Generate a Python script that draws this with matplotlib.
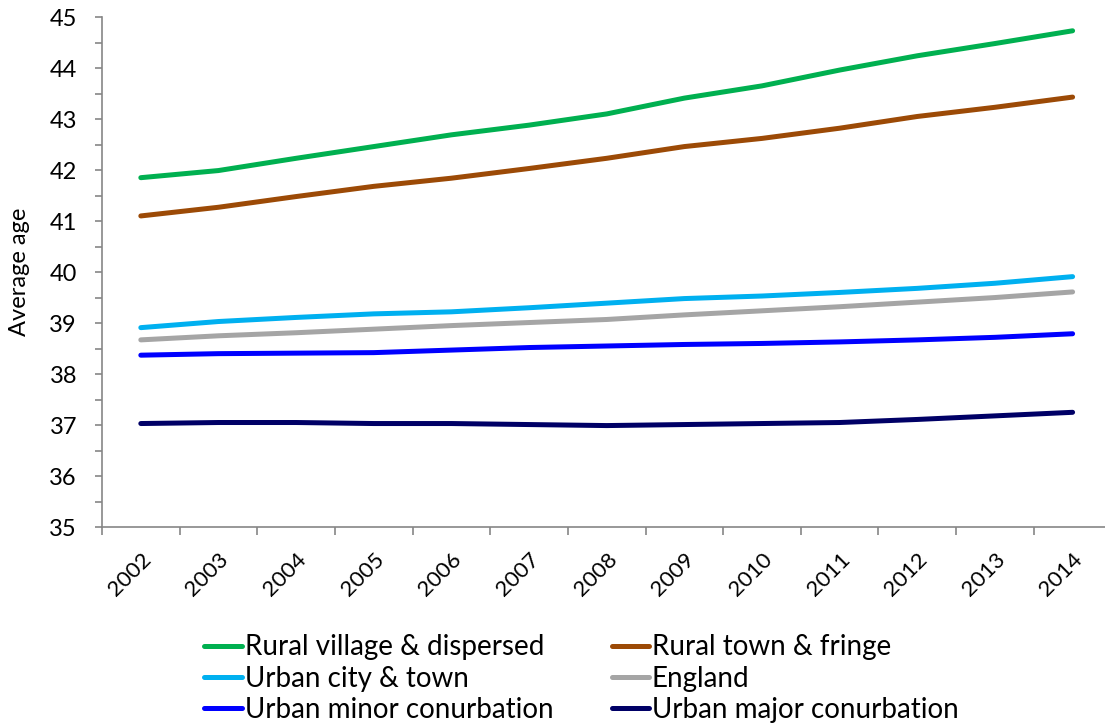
import numpy as np
import matplotlib
matplotlib.use("Agg")
import matplotlib.pyplot as plt
from matplotlib.ticker import MultipleLocator, FixedLocator

plt.rcParams['font.family'] = ['Lato', 'DejaVu Sans']

years = [str(y) for y in range(2002, 2015)]

rural_village = [41.85, 41.99, 42.23, 42.46, 42.69, 42.88, 43.10, 43.41, 43.65, 43.96, 44.24, 44.48, 44.73]
rural_town = [41.10, 41.27, 41.48, 41.68, 41.84, 42.03, 42.23, 42.46, 42.62, 42.82, 43.05, 43.23, 43.43]
urban_city = [38.91, 39.03, 39.11, 39.18, 39.22, 39.30, 39.39, 39.48, 39.53, 39.60, 39.68, 39.78, 39.91]
england = [38.67, 38.75, 38.81, 38.88, 38.95, 39.01, 39.07, 39.16, 39.24, 39.32, 39.41, 39.50, 39.61]
urban_minor = [38.37, 38.40, 38.41, 38.42, 38.47, 38.52, 38.55, 38.58, 38.60, 38.63, 38.67, 38.72, 38.79]
urban_major = [37.03, 37.05, 37.05, 37.03, 37.03, 37.01, 36.99, 37.01, 37.03, 37.05, 37.11, 37.18, 37.25]

series = [
    ("Rural village & dispersed", rural_village, "#00B050"),
    ("Rural town & fringe", rural_town, "#9C4A06"),
    ("Urban city & town", urban_city, "#00B0F0"),
    ("England", england, "#A5A5A5"),
    ("Urban minor conurbation", urban_minor, "#0000FF"),
    ("Urban major conurbation", urban_major, "#000066"),
]

fig = plt.figure(figsize=(11.05, 7.24), dpi=100)
ax = fig.add_axes([0.0923, 0.272, 0.9135, 0.7045])

x = np.arange(len(years))
handles = []
for name, vals, col in series:
    h, = ax.plot(x, vals, color=col, lw=3.6, solid_capstyle='round', label=name)
    handles.append(h)

ax.set_xlim(-0.5, len(years) - 0.5)
ax.set_ylim(35, 45)

# y axis
ax.yaxis.set_major_locator(MultipleLocator(1))
ax.yaxis.set_minor_locator(MultipleLocator(0.5))
ax.tick_params(axis='y', which='both', direction='out', length=5, color='#868686', width=1.2,
               labelsize=17, pad=13)
ax.set_ylabel("Average age", fontsize=17, labelpad=14)

# x axis: category style, ticks between categories
ax.set_xticks(x)
ax.set_xticklabels(years, rotation=45, ha='right', va='top', rotation_mode='anchor', fontsize=16)
ax.xaxis.set_minor_locator(FixedLocator(np.arange(-0.5, len(years), 1.0)))
ax.tick_params(axis='x', which='major', length=0, pad=16)
ax.tick_params(axis='x', which='minor', direction='out', length=6, color='#868686', width=1.2)

for s in ['top', 'right']:
    ax.spines[s].set_visible(False)
for s in ['left', 'bottom']:
    ax.spines[s].set_color('#868686')
    ax.spines[s].set_linewidth(1.2)

order = [0, 2, 4, 1, 3, 5]
fig.legend([handles[i] for i in order], [series[i][0] for i in order],
           loc='upper left', bbox_to_anchor=(0.185, 0.124), ncol=2, frameon=False,
           fontsize=20, handlelength=1.35, handletextpad=0.1, columnspacing=2.1,
           labelspacing=0.19, borderpad=0, borderaxespad=0)

fig.savefig("out.png", dpi=100)
